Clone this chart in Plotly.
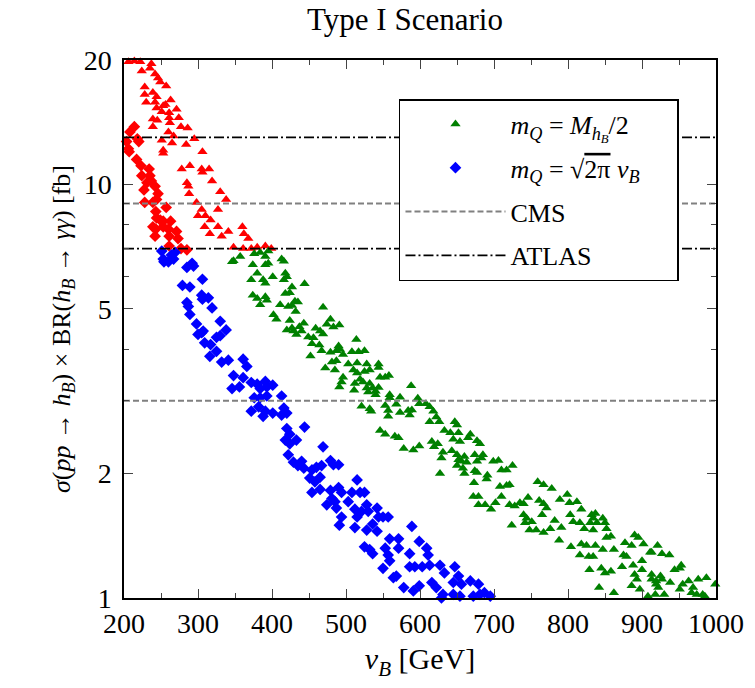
import plotly.graph_objects as go

# ---------------- data ----------------
# m_Q = M_hB/2 series, points below the ATLAS bound (green)
green_x = [348, 357, 346, 376, 384, 395, 391, 416, 413, 374, 380, 391, 395, 372, 388, 391, 401, 418, 416, 420,
           374, 380, 391, 393, 384, 418, 411, 422, 402, 406, 420,
           444, 427, 424, 431, 435, 427, 432, 469, 424, 443, 437, 427, 429, 433, 440, 479, 474, 483, 491, 459,
           465, 469, 449, 456, 454, 464, 467, 452, 479, 490, 492, 496, 487, 514, 508, 517, 525, 472, 481, 487,
           485, 496, 494, 491, 503, 515, 510, 515, 519, 512, 511, 528, 532, 525, 544, 544, 546, 553, 558, 523,
           532, 528, 536, 544, 540, 540, 530, 588, 559, 559, 573, 553, 568, 597, 599, 608, 613, 618, 521, 532,
           534, 557, 573, 584, 589, 586, 622, 647, 557,
           546, 553, 566, 571, 578, 591, 599,
           613, 626, 650, 633, 641, 652, 668, 665, 645, 654, 677, 681, 616, 624, 619, 631, 643, 650, 660, 652,
           656, 629, 674, 685, 683, 663, 677, 699, 706, 650, 658, 660, 674, 677, 710, 717, 725, 627, 691, 690,
           673, 708, 717, 721, 672, 679, 710, 679, 688, 696, 702, 721, 728, 735, 740, 759, 767, 778, 746, 761,
           767, 771, 765, 789, 799, 802, 812, 818, 832, 837, 847, 850, 740, 744, 742, 751, 724, 748, 757, 767,
           776, 782, 791, 803, 807, 816, 822, 830, 834, 852,
           834, 839, 852, 858, 818, 825, 837, 847, 862, 877, 890, 895, 886, 902, 911, 913, 921, 927, 937, 816,
           828, 834, 875, 879, 873, 829, 845, 850, 858, 888, 900, 900, 890, 893, 913, 925, 913, 919, 927, 919,
           922, 938, 944, 951, 953, 963, 955, 951, 976, 987, 969, 967, 974, 982, 985, 999, 842, 862, 886, 897,
           908, 918, 930, 788, 804]
green_y = [6.54, 6.7, 6.5, 6.8, 6.85, 6.9, 6.7, 6.52, 6.6, 6.4, 6.1, 6.4, 6.45, 5.88, 5.88, 5.77, 5.98, 6.1, 5.88, 5.98,
           5.4, 5.3, 5.35, 5.25, 5.12, 5.45, 5.12, 5.07, 4.84, 4.72, 4.45,
           5.75, 5.65, 5.47, 5.22, 5.2, 5.1, 4.93, 5.05, 4.69, 4.62, 4.53, 4.5, 4.42, 4.34, 4.42, 4.72, 4.59, 4.52, 4.57, 4.49,
           4.42, 4.35, 4.28, 4.26, 4.12, 4.09, 3.96, 3.85, 3.93, 4.07, 3.99, 3.88, 3.96, 4.22, 3.94, 3.94, 3.96, 3.6, 3.72, 3.75,
           3.56, 3.42, 3.33, 3.24, 3.68, 3.70, 3.56, 3.5, 3.38, 3.3, 3.18, 3.68, 3.56, 3.53, 3.68, 3.61, 3.42, 3.42, 3.45, 3.33,
           3.3, 3.22, 3.22, 3.23, 3.16, 3.1, 3.15, 3.26, 3.1, 3.05, 3.06, 2.92, 2.94, 3.04, 2.95, 2.95, 2.9, 2.83, 2.91, 2.87,
           2.83, 2.84, 2.81, 2.84, 2.85, 2.77, 2.74, 2.67, 2.75,
           2.54, 2.49, 2.46, 2.44, 2.3, 2.28, 2.33,
           2.67, 2.67, 2.62, 2.54, 2.51, 2.51, 2.49, 2.44, 2.42, 2.39, 2.4, 2.36, 2.39, 2.36, 2.32, 2.25, 2.27, 2.22, 2.2, 2.16,
           2.14, 2.18, 2.22, 2.22, 2.18, 2.13, 2.14, 2.14, 2.15, 2.09, 2.06, 2.0, 2.03, 2.01, 2.04, 2.04, 2.09, 2.0, 1.98, 1.94,
           1.9, 1.86, 1.87, 1.88, 1.76, 1.76, 1.76, 1.68, 1.68, 1.64, 1.70, 1.68, 1.67, 1.70, 1.69, 1.91, 1.88, 1.84, 1.75, 1.72,
           1.69, 1.65, 1.59, 1.73, 1.78, 1.7, 1.71, 1.64, 1.59, 1.6, 1.56, 1.52, 1.59, 1.56, 1.52, 1.53, 1.5, 1.46, 1.46, 1.44,
           1.47, 1.54, 1.48, 1.59, 1.53, 1.52, 1.47, 1.52, 1.46, 1.47,
           1.56, 1.52, 1.4, 1.41, 1.35, 1.34, 1.34, 1.31, 1.31, 1.36, 1.42, 1.4, 1.34, 1.35, 1.29, 1.29, 1.34, 1.28, 1.27, 1.27,
           1.26, 1.26, 1.27, 1.26, 1.19, 1.17, 1.18, 1.15, 1.16, 1.2, 1.23, 1.17, 1.14, 1.11, 1.14, 1.13, 1.11, 1.1, 1.11, 1.08,
           1.06, 1.09, 1.17, 1.18, 1.2, 1.1, 1.08, 1.05, 1.11, 1.12, 1.06, 1.03, 1.02, 1.02, 1.01, 1.08, 1.06, 1.03, 1.07, 1.05,
           1.01, 1.02, 1.02, 1.38, 1.33]

# m_Q = M_hB/2 series, points above the ATLAS bound (red triangles)
red_tri_x = [206, 214, 222, 237, 235, 224, 242, 246, 249, 228, 239, 257, 228, 244, 230, 242, 256, 244, 253, 263,
             271, 261, 251, 261, 274, 239, 245, 239, 262, 277, 286, 260, 267, 295, 251, 265, 284, 253, 253, 306,
             289, 278, 305, 306, 315, 319, 285, 287, 288, 330, 338, 298, 305, 327, 300, 310, 317, 309, 327, 316,
             332, 341, 360, 362, 368, 348, 361, 372, 380, 391, 399]
red_tri_y = [19.8, 19.9, 19.8, 19.6, 19.1, 18.8, 18.5, 18.1, 17.7, 17.2, 16.7, 17.3, 16.5, 16.3, 15.8, 15.8, 15.6, 15.3, 15.5, 16.0,
             15.2, 14.9, 15.0, 14.5, 14.5, 14.4, 14.3, 13.8, 14.1, 13.8, 13.7, 13.4, 13.1, 12.9, 12.8, 12.6, 12.5, 12.1, 11.9, 12.0,
             11.1, 10.9, 10.9, 10.7, 10.9, 10.2, 10.1, 9.9, 9.5, 9.6, 9.2, 9.05, 8.7, 8.7, 8.4, 8.4, 8.2, 7.9, 7.9, 7.6,
             7.5, 7.7, 7.9, 7.6, 7.4, 7.05, 7.0, 7.0, 7.05, 7.1, 7.0]

# m_Q = sqrt(2 pi) v_B series, points below the ATLAS bound (blue)
blue_x = [251, 253, 254, 264, 267, 269, 260, 285, 292, 294, 279, 289, 306, 305, 306, 314, 319, 285, 287, 289,
          298, 305, 300, 307, 309, 317, 330, 338, 325, 330, 325, 316, 332, 341, 361, 366, 348, 361, 346, 356,
          372, 380, 391, 384, 393, 401, 376, 384, 393, 413, 372, 382, 391, 388, 401, 416, 413, 420,
          420, 424, 418, 424, 433, 444, 469, 422, 429, 435, 440, 443, 454, 460, 467, 479, 483, 490, 451, 458,
          465, 465, 454, 479, 490, 494, 481, 485, 474, 503, 515, 508, 519, 525, 487, 494, 491, 512, 515, 521,
          530, 528, 542, 544, 512, 528, 536, 542, 550, 557, 589, 525, 532, 536, 553, 557, 559, 571, 571, 559,
          586, 599, 609, 611, 586, 593, 603, 613, 627, 550, 564, 568, 578, 591, 599, 616, 622, 633, 647, 652,
          668, 645, 656, 679, 631, 645, 654, 672, 681, 629, 687, 695]
blue_y = [6.9, 6.6, 6.5, 6.75, 6.6, 6.85, 6.5, 6.3, 6.45, 6.35, 5.7, 5.65, 5.9, 5.4, 5.28, 5.32, 5.03, 5.18, 5.07, 4.85,
          4.6, 4.38, 4.34, 4.42, 4.14, 4.1, 4.67, 4.45, 4.27, 4.31, 3.95, 3.84, 3.72, 3.76, 3.78, 3.63, 3.45, 3.41, 3.21, 3.24,
          3.32, 3.29, 3.34, 3.21, 3.24, 3.27, 3.05, 3.05, 3.08, 3.08, 2.83, 2.9, 2.83, 2.75, 2.8, 2.88, 2.77, 2.8,
          2.57, 2.49, 2.41, 2.36, 2.41, 2.59, 2.32, 2.22, 2.13, 2.09, 2.14, 2.06, 2.04, 2.07, 2.09, 2.15, 2.10, 2.10, 1.95, 1.91,
          1.96, 1.83, 1.80, 1.82, 1.85, 1.80, 1.74, 1.71, 1.68, 1.71, 1.93, 1.80, 1.80, 1.80, 1.65, 1.57, 1.50, 1.64, 1.57, 1.62,
          1.62, 1.68, 1.65, 1.57, 1.48, 1.46, 1.51, 1.45, 1.57, 1.57, 1.49, 1.33, 1.31, 1.28, 1.32, 1.27, 1.39, 1.39, 1.32, 1.23,
          1.28, 1.37, 1.32, 1.27, 1.19, 1.19, 1.19, 1.20, 1.20, 1.18, 1.12, 1.13, 1.06, 1.04, 1.07, 1.09, 1.06, 1.15, 1.19, 1.13,
          1.10, 1.09, 1.08, 1.08, 1.02, 1.02, 1.01, 1.01, 1.02, 1.00, 1.03, 1.01]

# m_Q = sqrt(2 pi) v_B series, points above the ATLAS bound (red diamonds)
red_dia_x = [208, 214, 203.5, 206, 207, 218, 220, 217, 223, 234, 224, 235, 237, 231, 227, 242, 246, 244, 228, 239,
             257, 243, 244, 249, 253, 263, 239, 243, 253, 260, 242, 261, 271, 273, 261, 277, 285]
red_dia_y = [13.4, 13.8, 12.7, 12.2, 12.0, 12.9, 12.7, 11.5, 11.1, 10.9, 10.5, 10.5, 10.2, 10.1, 9.7, 9.9, 9.5, 9.2, 9.05, 9.05,
             8.8, 8.6, 8.3, 8.2, 8.15, 8.15, 7.9, 7.8, 7.9, 7.8, 7.5, 7.5, 7.7, 7.4, 7.1, 7.0, 6.95]

# experimental bounds [fb]
cms_levels = [9.0, 3.0]
atlas_levels = [13.0, 7.0]
x_span = [200, 1000]

x_ticks = [200, 300, 400, 500, 600, 700, 800, 900, 1000]
y_ticks = [1, 2, 5, 10, 20]
y_minor = [3, 4, 6, 7, 8, 9]

FONT = "Liberation Serif"


def hlines(levels):
    xs, ys = [], []
    for lv in levels:
        xs += [x_span[0], x_span[1], None]
        ys += [lv, lv, None]
    return xs, ys


fig = go.Figure()

cx, cy = hlines(cms_levels)
ax_, ay_ = hlines(atlas_levels)

fig.add_trace(go.Scatter(x=red_tri_x, y=red_tri_y, mode="markers", showlegend=False, cliponaxis=False,
                         marker=dict(symbol="triangle-up", size=9, color="#ff0000", line=dict(width=0))))
fig.add_trace(go.Scatter(x=red_dia_x, y=red_dia_y, mode="markers", showlegend=False, cliponaxis=False,
                         marker=dict(symbol="diamond", size=9, color="#ff0000", line=dict(width=0))))
fig.add_trace(go.Scatter(x=green_x, y=green_y, mode="markers", legendgroup="g1", cliponaxis=False,
                         name="<i>m<sub>Q</sub></i> = <i>M<sub>h<sub>B</sub></sub></i>/2",
                         marker=dict(symbol="triangle-up", size=9, color="#008000", line=dict(width=0))))
fig.add_trace(go.Scatter(x=blue_x, y=blue_y, mode="markers", legendgroup="g2", cliponaxis=False,
                         name="<i>m<sub>Q</sub></i> = √<span style='text-decoration:overline'>2π</span> <i>v<sub>B</sub></i>"
                              "&nbsp;&nbsp;&nbsp;&nbsp;&nbsp;",
                         marker=dict(symbol="diamond", size=9, color="#0000ff", line=dict(width=0))))
fig.add_trace(go.Scatter(x=cx, y=cy, mode="lines", name="CMS", legendgroup="g3",
                         line=dict(color="#808080", width=2, dash="6px,3px")))
fig.add_trace(go.Scatter(x=ax_, y=ay_, mode="lines", name="ATLAS", legendgroup="g4",
                         line=dict(color="#000000", width=1.8, dash="10px,3px,2px,3px")))

W, H = 755, 688
fig.update_layout(
    width=W, height=H,
    margin=dict(l=124, r=39, t=60, b=90),
    paper_bgcolor="white", plot_bgcolor="white",
    font=dict(family=FONT, size=26, color="black"),
    title=dict(text="Type I Scenario", x=405 / W, xref="container", xanchor="center",
               y=1 - 19 / H, yref="container", yanchor="middle", automargin=False,
               font=dict(family=FONT, size=31)),
    legend=dict(x=0.4645, y=0.9275, xanchor="left", yanchor="top",
                bgcolor="white", bordercolor="black", borderwidth=1.5,
                font=dict(family=FONT, size=26), itemwidth=100,
                traceorder="grouped", tracegroupgap=7),
    showlegend=True,
)

fig.update_xaxes(range=[200, 1000], tickvals=x_ticks, ticks="inside", ticklen=9, tickwidth=1.2,
                 showline=True, linecolor="black", linewidth=1.5, mirror="allticks", showgrid=False,
                 zeroline=False, tickfont=dict(family=FONT, size=28), ticklabeloverflow="allow",
                 automargin=False,
                 minor=dict(ticks="inside", ticklen=5, dtick=50, tick0=0, showgrid=False),
                 title=dict(text="<i>v<sub>B</sub></i> [GeV]", standoff=10, font=dict(family=FONT, size=30)))
fig.update_yaxes(type="log", range=[0, 1.30103], tickvals=y_ticks, ticktext=[str(v) for v in y_ticks],
                 ticks="inside", ticklen=9, tickwidth=1.2, ticklabelstandoff=5, automargin=False,
                 showline=True, linecolor="black", linewidth=1.5, mirror="allticks", showgrid=False,
                 zeroline=False, tickfont=dict(family=FONT, size=28),
                 minor=dict(ticks="inside", ticklen=5, tickvals=y_minor, showgrid=False),
                 title=dict(text="<i>σ</i>(<i>pp</i> → <i>h<sub>B</sub></i>) × BR(<i>h<sub>B</sub></i> → <i>γγ</i>) [fb]",
                            standoff=6, font=dict(family=FONT, size=26)))

fig.write_html("out.html", config={"displayModeBar": False},
               post_script="document.body.style.margin='0px'; document.body.style.overflow='hidden';")
